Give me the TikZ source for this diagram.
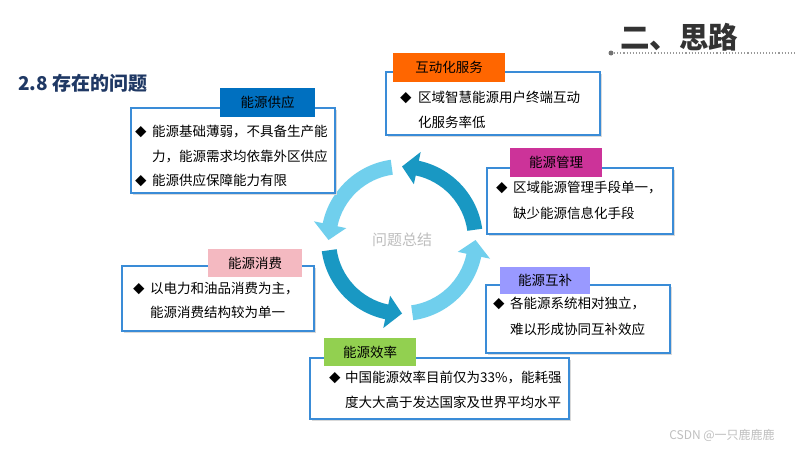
\documentclass[tikz,border=0pt]{standalone}
\usepackage{fontspec}
\setmainfont{Noto Sans CJK SC}
\usetikzlibrary{calc}
\definecolor{boxblue}{RGB}{58,140,215}
\definecolor{arrdark}{RGB}{25,152,195}
\definecolor{arrlight}{RGB}{112,207,237}
\definecolor{lbsupply}{RGB}{0,112,192}
\definecolor{lbinter}{RGB}{255,102,0}
\definecolor{lbmanage}{RGB}{204,51,153}
\definecolor{lbconsume}{RGB}{244,185,193}
\definecolor{lbcomp}{RGB}{153,153,255}
\definecolor{lbeff}{RGB}{146,208,80}
\definecolor{titlegray}{RGB}{51,51,51}
\definecolor{navy}{RGB}{31,56,100}
\definecolor{centergray}{RGB}{190,190,190}
\newcommand\ringarrow[2]{%
  \fill[#1] ($(ctr)+(#2+8:81pt)$) arc[start angle=#2+8, end angle=#2+78, radius=81pt]
    -- ($(ctr)+(#2+78:90pt)$) -- ($(ctr)+(#2+90:73.5pt)$) -- ($(ctr)+(#2+78:57pt)$)
    -- ($(ctr)+(#2+78:66pt)$) arc[start angle=#2+78, end angle=#2+8, radius=66pt] -- cycle;}
\begin{document}
\begin{tikzpicture}[x=1pt,y=1pt,
  mainbox/.style={draw=boxblue, line width=1.2pt, fill=white},
  shadowfill/.style={fill=black!15},
  labelbox/.style={inner sep=0pt, font=\fontsize{13.5}{16}\selectfont, text=black},
  bodytext/.style={anchor=base west, inner sep=0pt, font=\fontsize{13.5}{16}\selectfont, text=black},
  bulletmark/.style={anchor=base west, inner sep=0pt, font=\fontsize{11.5}{13}\selectfont, text=black},
]
\useasboundingbox[fill=white] (0,0) rectangle (800,-450);

% title
\node[anchor=center, inner sep=0pt, font=\fontsize{29.5}{32}\selectfont\bfseries, text=titlegray] (title) at (679,-37) {二、思路};
\coordinate (dotstart) at (611,-53);
\coordinate (dotend) at (795,-53);
\draw[black!40, line width=1.1pt, dotted] (dotstart) -- (dotend);
\fill[black!55] (dotstart) circle (2.5pt);
\node[anchor=west, inner sep=0pt, font=\fontsize{19}{22}\selectfont\bfseries, text=navy] (subtitle) at (18,-83) {2.8 存在的问题};

% ring of arrows
\coordinate (ctr) at (402,-240);
\ringarrow{arrdark}{0}
\ringarrow{arrlight}{90}
\ringarrow{arrdark}{180}
\ringarrow{arrlight}{270}
\node[inner sep=0pt, font=\fontsize{15}{18}\selectfont, text=centergray] (center) at (ctr) {问题总结};

% supply box
\fill[shadowfill] (133,-110) rectangle (337,-195);
\draw[mainbox] (131,-108) rectangle (335,-193);
\node[labelbox, fill=lbsupply, minimum width=95pt, minimum height=29pt] (supplylbl) at (267.5,-102.5) {能源供应};
\node[bulletmark] (sb1) at (135,-136) {◆};
\node[bodytext] (st1) at (152,-136) {能源基础薄弱，不具备生产能};
\node[bodytext] (st2) at (152,-161) {力，能源需求均依靠外区供应};
\node[bulletmark] (sb2) at (135,-185) {◆};
\node[bodytext] (st3) at (152,-185) {能源供应保障能力有限};

% interaction box
\fill[shadowfill] (388,-74) rectangle (602,-137);
\draw[mainbox] (386,-72) rectangle (600,-135);
\node[labelbox, fill=lbinter, minimum width=112pt, minimum height=29pt] (interlbl) at (449,-67.5) {互动化服务};
\node[bulletmark] (ib1) at (400,-102) {◆};
\node[bodytext] (it1) at (418,-102) {区域智慧能源用户终端互动};
\node[bodytext] (it2) at (418,-127) {化服务率低};

% management box
\fill[shadowfill] (489,-170) rectangle (675,-236);
\draw[mainbox] (487,-168) rectangle (673,-234);
\node[labelbox, fill=lbmanage, minimum width=92pt, minimum height=29pt] (managelbl) at (556,-162.5) {能源管理};
\node[bulletmark] (mb1) at (496,-192) {◆};
\node[bodytext] (mt1) at (513,-192) {区域能源管理手段单一，};
\node[bodytext] (mt2) at (513,-218) {缺少能源信息化手段};

% consumption box
\fill[shadowfill] (124,-268) rectangle (316,-333);
\draw[mainbox] (122,-266) rectangle (314,-331);
\node[labelbox, fill=lbconsume, minimum width=94pt, minimum height=28pt] (consumelbl) at (255,-263) {能源消费};
\node[bulletmark] (cb1) at (133,-293) {◆};
\node[bodytext] (ct1) at (150,-293) {以电力和油品消费为主，};
\node[bodytext] (ct2) at (150,-317) {能源消费结构较为单一};

% complement box
\fill[shadowfill] (488,-287) rectangle (672,-355);
\draw[mainbox] (486,-285) rectangle (670,-353);
\node[labelbox, fill=lbcomp, minimum width=90pt, minimum height=27pt] (complbl) at (545,-280.5) {能源互补};
\node[bulletmark] (pb1) at (493,-308) {◆};
\node[bodytext] (pt1) at (510,-308) {各能源系统相对独立，};
\node[bodytext] (pt2) at (510,-334) {难以形成协同互补效应};

% efficiency box
\fill[shadowfill] (312,-360) rectangle (571,-421);
\draw[mainbox] (310,-358) rectangle (569,-419);
\node[labelbox, fill=lbeff, minimum width=92pt, minimum height=28pt] (efflbl) at (370,-352) {能源效率};
\node[bulletmark] (eb1) at (329,-382) {◆};
\node[bodytext] (et1) at (345,-382) {中国能源效率目前仅为33\%，能耗强};
\node[bodytext] (et2) at (345,-407) {度大大高于发达国家及世界平均水平};

% watermark
\node[anchor=center, inner sep=0pt, font=\fontsize{12}{14}\selectfont, text=black!25] (mark) at (722,-435) {CSDN @一只鹿鹿鹿};
\end{tikzpicture}
\end{document}
